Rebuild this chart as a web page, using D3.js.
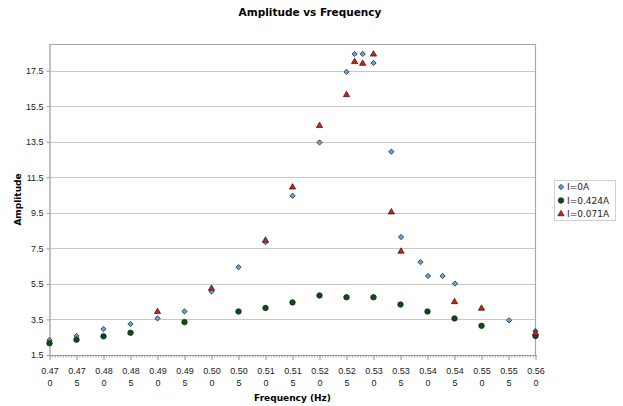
<!DOCTYPE html>
<html>
<head>
<meta charset="utf-8">
<script src="https://cdn.jsdelivr.net/npm/d3@7/dist/d3.min.js"></script>
<style>
  body { margin: 0; background: #fff; }
  svg { display: block; font-family: "DejaVu Sans", Verdana, sans-serif; }
  .tick text { fill: #222; }
</style>
</head>
<body>
<svg id="chart" width="623" height="406"></svg>
<script>
// series
const freq0 = [0.470, 0.475, 0.480, 0.485, 0.490, 0.495, 0.500, 0.505, 0.510, 0.515, 0.520, 0.525, 0.5265, 0.528, 0.530, 0.5333, 0.5351, 0.5387, 0.5401, 0.5428, 0.5451, 0.5551, 0.560];
const amp0  = [2.34, 2.57, 2.96, 3.24, 3.56, 3.95, 5.07, 6.44, 7.85, 10.46, 13.46, 17.43, 18.44, 18.44, 17.93, 12.94, 8.14, 6.73, 5.95, 5.95, 5.52, 3.45, 2.85];

const freq424 = [0.470, 0.475, 0.480, 0.485, 0.495, 0.505, 0.510, 0.515, 0.520, 0.525, 0.530, 0.535, 0.540, 0.545, 0.550, 0.560];
const amp424  = [2.16, 2.36, 2.55, 2.75, 3.35, 3.95, 4.15, 4.46, 4.85, 4.75, 4.75, 4.34, 3.95, 3.56, 3.14, 2.57];

const freq071 = [0.490, 0.500, 0.510, 0.515, 0.520, 0.525, 0.5265, 0.528, 0.530, 0.5333, 0.5351, 0.545, 0.550, 0.560];
const amp071  = [3.93, 5.24, 7.95, 10.94, 14.4, 16.14, 18.0, 17.9, 18.42, 9.54, 7.33, 4.49, 4.12, 2.72];

const seriesNames = ["I=0A", "I=0.424A", "I=0.071A"];

const xTicks = [0.470, 0.475, 0.480, 0.485, 0.490, 0.495, 0.500, 0.505, 0.510, 0.515, 0.520, 0.525, 0.530, 0.535, 0.540, 0.545, 0.550, 0.555, 0.560];
const yTicks = [1.5, 3.5, 5.5, 7.5, 9.5, 11.5, 13.5, 15.5, 17.5];

const margin = { left: 49.5, right: 87.5, top: 44, bottom: 51 };
const width = 623, height = 406;

const svg = d3.select("#chart");

const x = d3.scaleLinear().domain([0.47, 0.56]).range([margin.left, width - margin.right]);
const y = d3.scaleLinear().domain([1.5, 19]).range([height - margin.bottom, margin.top]);

// gridlines
svg.append("g")
  .selectAll("line")
  .data(yTicks.slice(1))
  .join("line")
  .attr("x1", x.range()[0]).attr("x2", x.range()[1])
  .attr("y1", d => Math.round(y(d)) + 0.5).attr("y2", d => Math.round(y(d)) + 0.5)
  .attr("stroke", "#c8c8c8");

// frame (top and right edges)
svg.append("path")
  .attr("d", `M${x.range()[0]},${margin.top + 0.5}H${x.range()[1]}V${height - margin.bottom}`)
  .attr("fill", "none")
  .attr("stroke", "#a8a8a8")
  .attr("stroke-width", 1.2);

// minor x ticks
const minor = d3.range(0, 181).map(i => 0.47 + i * 0.0005);
svg.append("g")
  .attr("transform", `translate(0,${height - margin.bottom})`)
  .call(d3.axisBottom(x).tickValues(minor).tickSize(2.5).tickFormat(""))
  .call(g => g.select(".domain").remove())
  .call(g => g.selectAll("line").attr("stroke", "#aaa"));

// x axis
const fmt = d3.format(".3f");
const xAxis = svg.append("g")
  .attr("transform", `translate(0,${height - margin.bottom})`)
  .call(d3.axisBottom(x).tickValues(xTicks).tickSize(5).tickSizeOuter(0).tickFormat(""))
  .call(g => g.select(".domain").attr("stroke", "#999").attr("stroke-width", 1.2))
  .call(g => g.selectAll("line").attr("stroke", "#999"));

xAxis.selectAll(".tick").append("text")
  .attr("text-anchor", "middle")
  .attr("font-size", 9)
  .attr("fill", "#222")
  .each(function(d) {
    const s = fmt(d);
    const t = d3.select(this);
    t.append("tspan").attr("x", 0).attr("y", 18.5).text(s.slice(0, 4));
    t.append("tspan").attr("x", 0).attr("y", 30.5).text(s.slice(4));
  });

// y axis
svg.append("g")
  .attr("transform", `translate(${margin.left},0)`)
  .call(d3.axisLeft(y).tickValues(yTicks).tickSize(3).tickSizeOuter(0).tickFormat(d3.format(".1f")))
  .call(g => g.select(".domain").attr("stroke", "#999").attr("stroke-width", 1.2))
  .call(g => g.selectAll("line").attr("stroke", "#999"))
  .call(g => g.selectAll("text").attr("font-size", 9).attr("fill", "#222").attr("x", -6));

// titles
svg.append("text")
  .attr("x", 310).attr("y", 16)
  .attr("text-anchor", "middle")
  .attr("font-size", 10.5).attr("font-weight", "bold")
  .text("Amplitude vs Frequency");

svg.append("text")
  .attr("x", (x.range()[0] + x.range()[1]) / 2).attr("y", 401)
  .attr("text-anchor", "middle")
  .attr("font-size", 9).attr("font-weight", "bold")
  .text("Frequency (Hz)");

svg.append("text")
  .attr("transform", `translate(21,${(y.range()[0] + y.range()[1]) / 2}) rotate(-90)`)
  .attr("text-anchor", "middle")
  .attr("font-size", 9).attr("font-weight", "bold")
  .text("Amplitude");

// markers: square turned 45deg for the diamond, like the spreadsheet marker
const diamond = d3.symbol(d3.symbolSquare, 14);
const circle = d3.symbol(d3.symbolCircle, 24);
const triangle = d3.symbol(d3.symbolTriangle, 17);

const series = [
  { name: seriesNames[0], xs: freq0, ys: amp0, sym: diamond, rot: 45, fill: "#65a3e0" },
  { name: seriesNames[1], xs: freq424, ys: amp424, sym: circle, rot: 0, fill: "#0b4d12" },
  { name: seriesNames[2], xs: freq071, ys: amp071, sym: triangle, rot: 0, fill: "#d01e12" }
];

series.forEach(s => {
  svg.append("g")
    .selectAll("path")
    .data(s.xs.map((f, i) => [f, s.ys[i]]))
    .join("path")
    .attr("d", s.sym)
    .attr("transform", d => `translate(${x(d[0])},${y(d[1])}) rotate(${s.rot})`)
    .attr("fill", s.fill)
    .attr("stroke", "#1a1a1a")
    .attr("stroke-width", 0.7);
});

// legend
const lg = svg.append("g").attr("transform", "translate(554,180)");
lg.append("rect")
  .attr("x", 0.5).attr("y", 0.5).attr("width", 61).attr("height", 40)
  .attr("fill", "#fff").attr("stroke", "#d0d0d0");
series.forEach((s, i) => {
  const row = lg.append("g").attr("transform", `translate(7,${7 + i * 13.5})`);
  row.append("path").attr("d", s.sym).attr("transform", `rotate(${s.rot})`)
    .attr("fill", s.fill).attr("stroke", "#1a1a1a").attr("stroke-width", 0.7);
  row.append("text").attr("x", 6).attr("y", 3.3)
    .attr("font-size", 9).attr("fill", "#222").text(s.name);
});
</script>
</body>
</html>
